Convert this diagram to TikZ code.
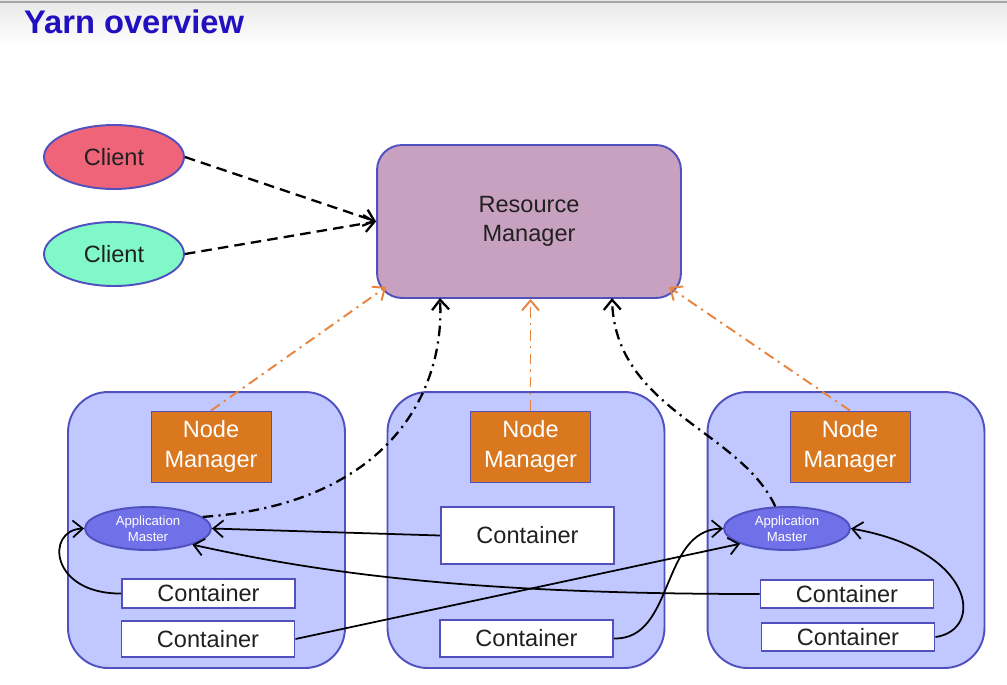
\documentclass[tikz,border=0pt]{standalone}
\usepackage{fontspec}
\setmainfont{Liberation Sans}
\usetikzlibrary{shapes.geometric}
\usetikzlibrary{arrows.meta}
\definecolor{edgeblue}{RGB}{80,80,190}
\definecolor{clientred}{RGB}{240,100,122}
\definecolor{clientgreen}{RGB}{128,248,200}
\definecolor{rmfill}{RGB}{200,160,192}
\definecolor{hostfill}{RGB}{192,200,255}
\definecolor{nmorange}{RGB}{218,120,32}
\definecolor{amfill}{RGB}{112,112,232}
\definecolor{hbarrow}{RGB}{232,132,60}
\definecolor{titleblue}{RGB}{32,16,192}
\definecolor{inktext}{RGB}{32,32,32}
\tikzset{bigfont/.style={font=\fontsize{13.4}{16.8}\selectfont}}
\tikzset{client/.style={ellipse, draw=edgeblue, line width=1.1pt, bigfont, text=inktext,
    minimum width=2.8cm, minimum height=1.28cm}}
\tikzset{host/.style={rectangle, rounded corners=0.8cm, draw=edgeblue, line width=1.1pt,
    fill=hostfill, minimum width=5.54cm, minimum height=5.52cm}}
\tikzset{nodemgr/.style={rectangle, draw=edgeblue, line width=0.5pt, fill=nmorange,
    text=white, bigfont, align=center, minimum width=2.4cm, minimum height=1.42cm, inner sep=0pt}}
\tikzset{appmaster/.style={ellipse, draw=edgeblue, line width=1.1pt, fill=amfill, text=white,
    align=center, font=\fontsize{7.5}{9}\selectfont, minimum width=2.52cm, minimum height=0.86cm, inner sep=0pt}}
\tikzset{cont/.style={rectangle, draw=edgeblue, line width=1.1pt, fill=white, text=inktext,
    bigfont, minimum width=3.46cm, inner sep=0pt}}
\tikzset{submit/.style={-{Straight Barb[length=2mm, width=3.4mm]}, line width=1.3pt, dash pattern=on 6pt off 3.5pt}}
\tikzset{heartbeat/.style={-{Straight Barb[length=2mm, width=3.4mm]}, line width=1.1pt, draw=hbarrow,
    dash pattern=on 6pt off 3pt on 1.2pt off 3pt}}
\tikzset{amstatus/.style={-{Straight Barb[length=2mm, width=3.4mm]}, line width=1.3pt,
    dash pattern=on 6pt off 3pt on 1.2pt off 3pt}}
\tikzset{report/.style={-{Straight Barb[length=2mm, width=3.4mm]}, line width=1pt}}

\begin{document}
\begin{tikzpicture}[x=0.02cm, y=-0.02cm]
    \useasboundingbox (0, 0) rectangle (1007, 684);
    \shade[top color=black!9, bottom color=white] (0, 0) rectangle (1007, 45);
    \draw[black!35, line width=1.2pt] (0, 2) -- (1007, 2);
    \node[anchor=west, text=titleblue, font=\bfseries\fontsize{18.6}{22}\selectfont] (title) at (18, 22) {Yarn overview};

    % clients and resource manager
    \node[client, fill=clientred] (client1) at (114, 157) {Client};
    \node[client, fill=clientgreen] (client2) at (114, 254) {Client};
    \node[rectangle, rounded corners=0.5cm, draw=edgeblue, line width=1.1pt, fill=rmfill,
        text=inktext, bigfont, align=center, minimum width=6.08cm, minimum height=3.06cm]
        (rm) at (529, 221.5) {Resource\\Manager};

    % hosts
    \node[host] (host1) at (206.5, 530) {};
    \node[host] (host2) at (526, 530) {};
    \node[host] (host3) at (846, 530) {};
    \node[nodemgr] (nm1) at (211, 446.5) {Node\\Manager};
    \node[nodemgr] (nm2) at (530.5, 446.5) {Node\\Manager};
    \node[nodemgr] (nm3) at (850, 446.5) {Node\\Manager};
    \node[appmaster] (am1) at (148, 528.5) {Application\\Master};
    \node[appmaster] (am3) at (787, 528.5) {Application\\Master};

    \node[cont, minimum height=0.58cm] (c1a) at (208.5, 593.5) {Container};
    \node[cont, minimum height=0.72cm] (c1b) at (208, 639) {Container};
    \node[cont, minimum height=1.14cm] (c2a) at (527.5, 535.5) {Container};
    \node[cont, minimum height=0.74cm] (c2b) at (526.5, 638.5) {Container};
    \node[cont, minimum height=0.56cm] (c3a) at (847, 594) {Container};
    \node[cont, minimum height=0.56cm] (c3b) at (848, 637) {Container};

    % points on the rounded border of the resource manager
    \coordinate (rmsw) at (386, 287);
    \coordinate (rmse) at (669, 287);
    \coordinate (rmb1) at (440, 298);
    \coordinate (rmb2) at (612, 298);

    \draw[submit] (client1.east) -- (rm.west);
    \draw[submit] (client2.east) -- (rm.west);

    \draw[heartbeat] (nm1.north) -- (rmsw);
    \draw[heartbeat] (nm2.north) -- (nm2.north |- rm.south);
    \draw[heartbeat] (nm3.north) -- (rmse);

    \draw[amstatus] (am1.12) .. controls (380, 505) and (445, 400) .. (rmb1);
    \draw[amstatus] (am3.118) .. controls (740, 430) and (615, 410) .. (rmb2);

    \draw[report] (c2a.west) -- (am1.east);
    \draw[report] (c3a.west) .. controls (480, 594) and (330, 575) .. (am1.-20);
    \draw[report] (c1a.west) .. controls (50, 594) and (45, 530) .. (am1.west);
    \draw[report] (c1b.east) -- (am3.-162);
    \draw[report] (c2b.east) .. controls (675, 640) and (660, 530) .. (am3.west);
    \draw[report] (c3b.east) .. controls (985, 630) and (975, 550) .. (am3.east);
\end{tikzpicture}
\end{document}
